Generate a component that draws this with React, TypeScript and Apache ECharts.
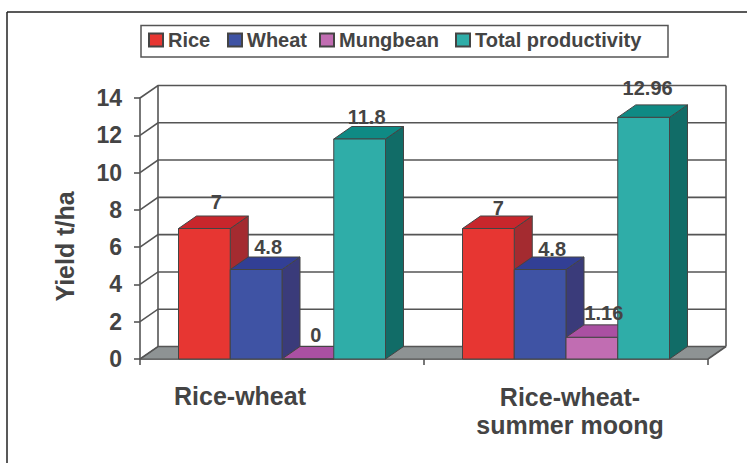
import React, { useEffect, useRef } from "react";
import * as echarts from "echarts";

const categories = ["Rice-wheat", "Rice-wheat-\nsummer moong"];
const seriesNames = ["Rice", "Wheat", "Mungbean", "Total productivity"];
const rice = [7, 7];
const wheat = [4.8, 4.8];
const mungbean = [0, 1.16];
const total = [11.8, 12.96];
const yTicks = [0, 2, 4, 6, 8, 10, 12, 14];

const W = 747, H = 463;
const DX = 18, DY = 12.5;
const BAR_FRACTION = 207 / 284;
const TEXT = "#444";
const LINE = "#555";
const FONT = "'Liberation Sans', Arial, sans-serif";
const LEGEND_LEFT = [148, 227, 319, 455];

const palette = [
  { front: "#e73632", top: "#c8262c", side: "#a42b30" },
  { front: "#3f53a4", top: "#323f95", side: "#3a3b7a" },
  { front: "#c16db2", top: "#aa50a2", side: "#8c4488" },
  { front: "#2fada8", top: "#0f8a84", side: "#116c67" },
];
const valueSets = [rice, wheat, mungbean, total];
// hand adjustment of each value label, [series][category] = [dx, dy]
const labelNudge = [
  [[3, -2], [1, 4]],
  [[3, 2], [3, 4]],
  [[-1, 0], [3, 0]],
  [[-2, 2], [-5, -5]],
];

function barGeometry(api: any, index: number, cat: number, val: number) {
  const band = api.size([1, 0])[0];
  const bw = (band * BAR_FRACTION) / 4;
  const [cx, y] = api.coord([cat, val]);
  const [, y0] = api.coord([cat, 0]);
  const x1 = cx + (index - 2) * bw;
  return { x1, x2: x1 + bw, y, y0, bw };
}

function barSeries(index: number) {
  const colors = palette[index];
  return {
    name: seriesNames[index],
    type: "custom",
    z: 5 + index,
    itemStyle: { color: colors.front, borderColor: "#444", borderWidth: 1 },
    data: valueSets[index].map((v, i) => [i, v]),
    renderItem(params: any, api: any) {
      const { x1, x2, y, y0, bw } = barGeometry(api, index, api.value(0), api.value(1));
      const stroke = { stroke: "#444", lineWidth: 1 };
      const children: any[] = [
        {
          type: "polygon",
          shape: { points: [[x2, y], [x2 + DX, y - DY], [x2 + DX, y0 - DY], [x2, y0]] },
          style: { fill: colors.side, ...stroke },
        },
        {
          type: "polygon",
          shape: { points: [[x1, y], [x1 + DX, y - DY], [x2 + DX, y - DY], [x2, y]] },
          style: { fill: colors.top, ...stroke },
        },
        {
          type: "rect",
          shape: { x: x1, y, width: bw, height: y0 - y },
          style: { fill: colors.front, ...stroke },
        },
      ];
      return { type: "group", children };
    },
  };
}

const labelSeries = {
  name: "values",
  type: "custom",
  z: 20,
  silent: true,
  data: valueSets.flatMap((vals, s) => vals.map((v, i) => [i, v, s])),
  renderItem(params: any, api: any) {
    const cat = api.value(0);
    const val = api.value(1);
    const s = api.value(2);
    const { x1, x2, y } = barGeometry(api, s, cat, val);
    const nudge = labelNudge[s][cat];
    return {
      type: "text",
      x: (x1 + x2) / 2 + DX / 2 + nudge[0],
      y: y - DY - 12 + nudge[1],
      style: {
        text: String(val),
        fill: TEXT,
        font: `bold 20px ${FONT}`,
        align: "center",
        verticalAlign: "middle",
      },
    };
  },
};

const wallSeries = {
  name: "walls",
  type: "custom",
  z: 1,
  silent: true,
  data: yTicks.map((t) => [0, t]),
  renderItem(params: any, api: any) {
    const v = api.value(1);
    const [, y] = api.coord([0, v]);
    const rect = params.coordSys;
    const left = rect.x, right = rect.x + rect.width;
    const style = { stroke: LINE, lineWidth: 1.6, fill: "none" };
    const children: any[] = [
      {
        type: "polyline",
        shape: { points: [[left, y], [left + DX, y - DY], [right + DX, y - DY]] },
        style,
      },
    ];
    if (v === 0) {
      children.unshift({
        type: "polygon",
        shape: { points: [[left, y], [left + DX, y - DY], [right + DX, y - DY], [right, y]] },
        style: { fill: "#8e9394", stroke: LINE, lineWidth: 1 },
      });
      const top = rect.y - DY;
      children.push(
        { type: "line", shape: { x1: left + DX, y1: y - DY, x2: left + DX, y2: top }, style },
        { type: "line", shape: { x1: right + DX, y1: y - DY, x2: right + DX, y2: top }, style },
        { type: "line", shape: { x1: right + DX, y1: y - DY, x2: right, y2: y }, style }
      );
    }
    return { type: "group", children };
  },
};

const legendText = { color: TEXT, fontSize: 20, fontWeight: "bold", fontFamily: FONT };

export default function App() {
  const ref = useRef<HTMLDivElement>(null);
  useEffect(() => {
    document.body.style.margin = "0";
    const chart = echarts.init(ref.current!, null, { renderer: "svg" });
    chart.setOption({
      animation: false,
      backgroundColor: "#fff",
      textStyle: { fontFamily: FONT },
      grid: { left: 140, right: W - 708, top: 98, height: 261 },
      legend: seriesNames.map((name, i) => ({
        data: [name],
        left: LEGEND_LEFT[i],
        top: 30,
        padding: 0,
        itemWidth: 14,
        itemHeight: 13,
        icon: "rect",
        textStyle: legendText,
      })),
      xAxis: {
        type: "category",
        data: categories,
        axisLine: { lineStyle: { color: LINE, width: 1.6 } },
        axisTick: { show: true, length: 6, lineStyle: { color: LINE, width: 1.6 } },
        axisLabel: {
          margin: 24,
          interval: 0,
          formatter: (v: string) =>
            v.indexOf("\n") < 0 ? `{a|${v}}` : v.split("\n").map((s) => `{b|${s}}`).join("\n"),
          rich: {
            a: { fontSize: 25, fontWeight: "bold", color: TEXT, fontFamily: FONT, padding: [0, 84, 0, 0] },
            b: { fontSize: 25, fontWeight: "bold", color: TEXT, fontFamily: FONT, padding: [0, 0, 0, 8], lineHeight: 28 },
          },
        },
      },
      yAxis: {
        type: "value",
        min: 0,
        max: 14,
        interval: 2,
        name: "Yield t/ha",
        nameLocation: "middle",
        nameGap: 63,
        nameTextStyle: { fontSize: 25, fontWeight: "bold", color: TEXT, fontFamily: FONT, padding: [0, 36, 0, 0] },
        splitLine: { show: false },
        axisLine: { show: true, lineStyle: { color: LINE, width: 1.6 } },
        axisTick: { show: true, length: 6, lineStyle: { color: LINE, width: 1.6 } },
        axisLabel: { margin: 18, fontSize: 23, fontWeight: "bold", color: TEXT, fontFamily: FONT, padding: [8, 0, 0, 0] },
      },
      graphic: [
        { type: "line", shape: { x1: 7, y1: 12, x2: W, y2: 12 }, style: { stroke: "#222", lineWidth: 1.5 } },
        { type: "line", shape: { x1: 7, y1: 12, x2: 7, y2: H }, style: { stroke: "#222", lineWidth: 1.5 } },
        {
          type: "rect",
          shape: { x: 141, y: 25.5, width: 527, height: 31.5 },
          style: { fill: "#fff", stroke: "#555", lineWidth: 1.5 },
        },
      ],
      series: [wallSeries, ...seriesNames.map((_, i) => barSeries(i)), labelSeries],
    });
    return () => chart.dispose();
  }, []);
  return <div ref={ref} style={{ width: W, height: H }} />;
}
